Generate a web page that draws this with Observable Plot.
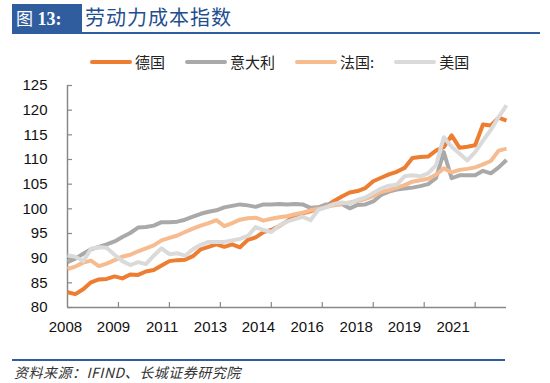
<!DOCTYPE html>
<html>
<head>
<meta charset="utf-8">
<script src="https://cdn.jsdelivr.net/npm/d3@7"></script>
<script src="https://cdn.jsdelivr.net/npm/@observablehq/plot@0.6"></script>
<style>
  html, body { margin: 0; padding: 0; background: #fff; }
  body { width: 550px; height: 383px; position: relative; overflow: hidden; font-family: "Noto Sans CJK SC", "Noto Sans", sans-serif; }
  #titlebox { position: absolute; left: 12px; top: 4px; width: 70px; height: 28px; background: #2f5d9e; color: #fff;
    font-family: "Liberation Serif", "Noto Sans CJK SC", serif; font-weight: bold; font-size: 18px; line-height: 28px; text-indent: 4px; }
  #titlebox span { font-family: "Noto Sans CJK SC"; font-weight: normal; font-size: 17px; }
  #titletext { position: absolute; left: 85px; top: 3px; font-size: 20px; letter-spacing: 1px; color: #1f4f8f; line-height: 28px; }
  #titleline { position: absolute; left: 12px; top: 32px; width: 528px; height: 2px; background: #2f5d9e; }
  #legend { position: absolute; left: 90px; top: 51px; display: flex; gap: 20px; font-size: 15px; line-height: 22px; color: #222; }
  .item { display: flex; align-items: center; }
  .sw { width: 42px; height: 4px; margin-right: 3px; border-radius: 2px; }
  #chart { position: absolute; left: 0; top: 72px; }
  #capline { position: absolute; left: 12px; top: 359px; width: 493px; height: 2px; background: #2f5d9e; }
  #caption { position: absolute; left: 14px; top: 362px; font-size: 14px; font-style: italic; color: #333; letter-spacing: 0.5px; line-height: 20px; }
</style>
</head>
<body>
<div id="titlebox"><span>图</span> 13:</div>
<div id="titletext">劳动力成本指数</div>
<div id="titleline"></div>
<div id="legend"></div>
<div id="chart"></div>
<div id="capline"></div>
<div id="caption">资料来源：IFIND、长城证券研究院</div>
<script>
// Quarterly index values (index 0 = first quarter of 2008)
const germany = [83.1, 82.7, 83.7, 85.1, 85.7, 85.8, 86.3, 85.9, 86.7, 86.6, 87.3, 87.6, 88.5, 89.4, 89.6, 89.7, 90.4, 91.8, 92.3, 92.8, 92.3, 92.8, 92.2, 93.7, 94.2, 95.3, 95.7, 96.5, 97.5, 98.5, 99.1, 99.5, 100.1, 100.6, 101.6, 102.5, 103.3, 103.6, 104.2, 105.6, 106.3, 107.0, 107.5, 108.3, 110.3, 110.5, 110.6, 111.8, 112.5, 114.9, 112.4, 112.6, 112.9, 117.1, 116.9, 118.5, 117.9];
const italy   = [89.2, 89.9, 90.9, 91.8, 92.3, 92.8, 93.4, 94.3, 95.1, 96.2, 96.3, 96.6, 97.3, 97.3, 97.4, 97.8, 98.4, 99.0, 99.4, 99.7, 100.3, 100.6, 100.9, 100.7, 100.4, 100.9, 100.9, 101.0, 100.9, 101.0, 100.9, 100.2, 100.3, 100.9, 100.8, 101.0, 100.1, 100.8, 100.9, 101.5, 102.8, 103.5, 103.9, 104.1, 104.3, 104.6, 105.0, 106.2, 111.5, 106.2, 106.8, 106.8, 106.8, 107.7, 107.2, 108.4, 109.9];
const france  = [87.8, 88.3, 89.1, 89.5, 88.4, 88.9, 89.6, 90.3, 90.7, 91.4, 92.0, 92.6, 93.6, 94.1, 94.6, 95.3, 96.0, 96.6, 97.1, 97.7, 96.5, 97.1, 97.8, 98.1, 98.2, 97.6, 98.0, 98.3, 98.5, 98.9, 99.2, 99.7, 100.0, 100.4, 100.7, 101.0, 101.3, 101.6, 102.0, 102.6, 103.4, 103.8, 104.3, 104.8, 105.5, 105.8, 106.1, 106.9, 108.2, 107.4, 107.9, 108.1, 108.4, 109.0, 109.7, 111.8, 112.2];
const usa     = [90.6, 90.3, 89.4, 91.9, 92.2, 92.1, 90.7, 89.4, 88.6, 89.2, 88.8, 90.5, 92.0, 90.8, 91.0, 90.5, 91.8, 92.7, 93.3, 93.3, 93.3, 93.6, 93.9, 94.5, 96.3, 95.7, 95.3, 96.6, 97.4, 97.9, 98.4, 97.7, 99.8, 100.3, 101.0, 101.3, 101.1, 101.8, 102.3, 103.2, 104.1, 104.7, 104.9, 106.6, 106.8, 106.6, 107.2, 108.8, 114.5, 112.6, 111.2, 109.8, 111.5, 113.8, 116.0, 118.6, 121.0];

const seriesNames  = ["德国", "意大利", "法国:", "美国"];
const seriesColors = ["#ed7d31", "#a9a9a9", "#f7bb90", "#dadada"];
const seriesValues = [germany, italy, france, usa];

const yTicks = [80, 85, 90, 95, 100, 105, 110, 115, 120, 125];
const xTickPos = [6.5, 13, 19.5, 26, 32.5, 39, 45.5, 52];
const xLabels = ["2008", "2009", "2011", "2013", "2014", "2016", "2018", "2019", "2021"];
const xLabelPos = [-0.26, 5.87, 12.07, 18.24, 24.36, 30.57, 36.83, 42.98, 49.19];

const rows = [];
seriesValues.forEach((vals, s) => vals.forEach((v, i) => rows.push({ i, v, name: seriesNames[s] })));
const labelOf = new Map(xLabelPos.map((p, k) => [p, xLabels[k]]));

// legend
const legend = document.getElementById("legend");
seriesNames.forEach((name, k) => {
  const it = document.createElement("div");
  it.className = "item";
  it.innerHTML = `<div class="sw" style="background:${seriesColors[k]}"></div><span>${name}</span>`;
  legend.appendChild(it);
});

const chart = Plot.plot({
  width: 550,
  height: 270,
  marginLeft: 67,
  marginRight: 44,
  marginTop: 13,
  marginBottom: 35,
  x: { type: "linear", domain: [0, germany.length - 1] },
  y: { domain: [80, 125] },
  color: { domain: seriesNames, range: seriesColors },
  style: { fontFamily: "'Liberation Sans', Arial, sans-serif", fontSize: "15px", color: "#111", background: "transparent", overflow: "visible" },
  marks: [
    Plot.axisY({ ticks: yTicks, tickSize: 0, tickPadding: 20, label: null, fontSize: 15 }),
    Plot.axisX({ ticks: xLabelPos, tickFormat: d => labelOf.get(d), tickSize: 0, tickPadding: 14, label: null, fontSize: 15 }),
    Plot.tickY(yTicks, { y: d => d, stroke: "#888", strokeWidth: 1.2, insetRight: 434 }),
    Plot.tickX(xTickPos, { x: d => d, stroke: "#888", strokeWidth: 1.2, insetTop: 217 }),
    Plot.ruleX([0], { stroke: "#888", strokeWidth: 1.5 }),
    Plot.ruleY([80], { stroke: "#888", strokeWidth: 1.5 }),
    Plot.line(rows, { x: "i", y: "v", z: "name", stroke: "name", strokeWidth: 4, strokeLinejoin: "round", strokeLinecap: "butt" })
  ]
});
document.getElementById("chart").appendChild(chart);
</script>
</body>
</html>
